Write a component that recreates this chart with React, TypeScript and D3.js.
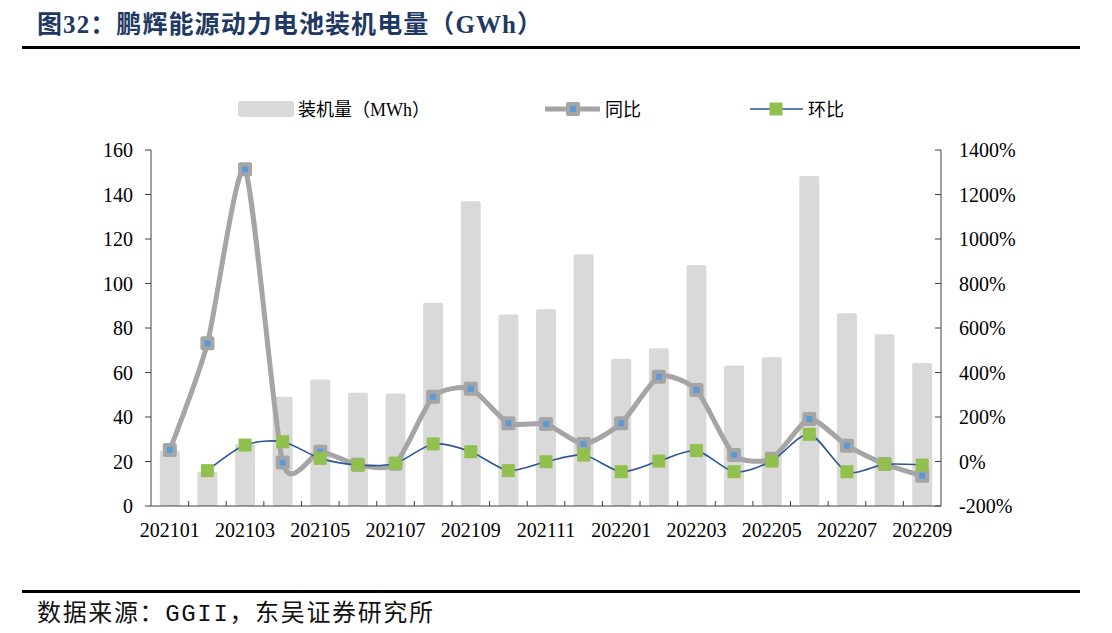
import React from "react";
import * as d3 from "d3";

const categories = ["202101","202102","202103","202104","202105","202106","202107","202108","202109","202110","202111","202112","202201","202202","202203","202204","202205","202206","202207","202208","202209"];
const installed = [25, 15.4, 28, 49.1, 56.9, 50.9, 50.6, 91.4, 137, 86.1, 88.4, 113.1, 66.2, 70.9, 108.3, 63.2, 66.8, 148.3, 86.6, 77.2, 64.3];
const yoy = [0.52, 5.31, 13.13, -0.05, 0.44, -0.15, -0.1, 2.91, 3.27, 1.72, 1.68, 0.79, 1.72, 3.81, 3.21, 0.29, 0.12, 1.91, 0.71, -0.11, -0.64];
const mom: (number | null)[] = [null, -0.41, 0.74, 0.89, 0.14, -0.16, -0.08, 0.79, 0.44, -0.41, -0.01, 0.29, -0.46, 0.02, 0.49, -0.46, 0.02, 1.22, -0.46, -0.13, -0.16];
const leftTicks = [0, 20, 40, 60, 80, 100, 120, 140, 160];
const rightTicks = [-2, 0, 2, 4, 6, 8, 10, 12, 14];

const title = "图32：鹏辉能源动力电池装机电量（GWh）";
const sourceParts = ["数据来源：", "GGII", "，东吴证券研究所"];
const legendLabels = ["装机量（MWh）", "同比", "环比"];

const SERIF = "'Liberation Serif', 'Times New Roman', 'Noto Sans CJK SC', serif";
const CJK = "'Liberation Serif', 'Noto Sans CJK SC', sans-serif";

export default function App() {
  const left = 151, right = 941, top = 150, bottom = 506;
  const x = d3.scaleBand<string>().domain(categories).range([left, right]).padding(0);
  const yL = d3.scaleLinear().domain([0, 160]).range([bottom, top]);
  const yR = d3.scaleLinear().domain([-2, 14]).range([bottom, top]);
  const cx = (c: string) => (x(c) as number) + x.bandwidth() / 2;
  const barW = 20;

  const yoyLine = d3.line<number>()
    .x((_, i) => cx(categories[i]))
    .y((d) => yR(d))
    .curve(d3.curveCardinal.tension(0.35));
  const momLine = d3.line<number | null>()
    .defined((d) => d !== null)
    .x((_, i) => cx(categories[i]))
    .y((d) => yR(d as number))
    .curve(d3.curveCardinal.tension(0.2));

  const gray = "#A5A5A5";
  const blue = "#5B9BD5";
  const green = "#92C04F";
  const navy = "#2F5597";
  const axisColor = "#404040";

  const yoyMarker = (px: number, py: number, key: string) => (
    <g key={key}>
      <rect x={px - 7} y={py - 7} width={14} height={14} rx={2} fill={gray} />
      <rect x={px - 3} y={py - 3} width={6} height={6} fill={blue} />
    </g>
  );
  const momMarker = (px: number, py: number, key: string) => (
    <rect key={key} x={px - 6.5} y={py - 6.5} width={13} height={13} fill={green} />
  );

  return (
    <svg width={1112} height={633} style={{ position: "absolute", left: 0, top: 0, background: "#fff" }}>
      {/* Title */}
      <text x={37} y={33} fontFamily={CJK} fontWeight="bold" fontSize={25} fill="#1F3864" textLength={505} lengthAdjust="spacing">{title}</text>
      <line x1={22} x2={1080} y1={47.5} y2={47.5} stroke="#000" strokeWidth={3} />

      {/* Bars */}
      {categories.map((c, i) => (
        <rect key={c} x={cx(c) - barW / 2} y={yL(installed[i])} width={barW} height={bottom - yL(installed[i])} fill="#D9D9D9" rx={2} />
      ))}

      {/* Axes */}
      <line x1={left} x2={left} y1={top} y2={bottom} stroke={axisColor} strokeWidth={1} />
      <line x1={right} x2={right} y1={top} y2={bottom} stroke={axisColor} strokeWidth={1} />
      <line x1={left} x2={right} y1={bottom} y2={bottom} stroke={axisColor} strokeWidth={1} />
      {leftTicks.map((t) => (
        <g key={"l" + t}>
          <line x1={left - 6} x2={left} y1={yL(t)} y2={yL(t)} stroke={axisColor} />
          <text x={133} y={yL(t)} dy="0.35em" textAnchor="end" fontFamily={SERIF} fontSize={20} fill="#000">{t}</text>
        </g>
      ))}
      {rightTicks.map((t) => (
        <g key={"r" + t}>
          <line x1={right - 6} x2={right} y1={yR(t)} y2={yR(t)} stroke={axisColor} />
          <text x={959} y={yR(t)} dy="0.35em" textAnchor="start" fontFamily={SERIF} fontSize={20} fill="#000">{Math.round(t * 100) + "%"}</text>
        </g>
      ))}
      {categories.slice(1).map((c) => (
        <line key={"t" + c} x1={x(c)} x2={x(c)} y1={bottom} y2={bottom - 5} stroke={axisColor} />
      ))}
      {categories.map((c, i) => i % 2 === 0 ? (
        <text key={"x" + c} x={cx(c)} y={537} textAnchor="middle" fontFamily={SERIF} fontSize={20} fill="#000">{c}</text>
      ) : null)}

      {/* YoY line */}
      <path d={yoyLine(yoy) || ""} fill="none" stroke={gray} strokeWidth={5} strokeLinejoin="round" />
      {yoy.map((v, i) => yoyMarker(cx(categories[i]), yR(v), "ym" + i))}

      {/* MoM line */}
      <path d={momLine(mom) || ""} fill="none" stroke={navy} strokeWidth={1.6} />
      {mom.map((v, i) => v === null ? null : momMarker(cx(categories[i]), yR(v), "mm" + i))}

      {/* Legend */}
      <rect x={238} y={101} width={56} height={16} rx={3} fill="#D9D9D9" />
      <text x={298} y={116} fontFamily={CJK} fontSize={18} fill="#000">{legendLabels[0]}</text>
      <line x1={545} x2={600} y1={109} y2={109} stroke={gray} strokeWidth={5} />
      {yoyMarker(573, 109, "lg1")}
      <text x={605} y={116} fontFamily={CJK} fontSize={18} fill="#000">{legendLabels[1]}</text>
      <line x1={750} x2={803} y1={109} y2={109} stroke={navy} strokeWidth={1.6} />
      {momMarker(776, 109, "lg2")}
      <text x={808} y={116} fontFamily={CJK} fontSize={18} fill="#000">{legendLabels[2]}</text>

      {/* Footer */}
      <line x1={22} x2={1080} y1={591.5} y2={591.5} stroke="#000" strokeWidth={3} />
      <text x={37} y={621} fontSize={24} fill="#111" fontFamily="'Noto Sans CJK SC', sans-serif" textLength={396} lengthAdjust="spacing">
        <tspan>{sourceParts[0]}</tspan>
        <tspan fontFamily="'Liberation Mono', 'DejaVu Sans Mono', monospace">{sourceParts[1]}</tspan>
        <tspan>{sourceParts[2]}</tspan>
      </text>
    </svg>
  );
}
